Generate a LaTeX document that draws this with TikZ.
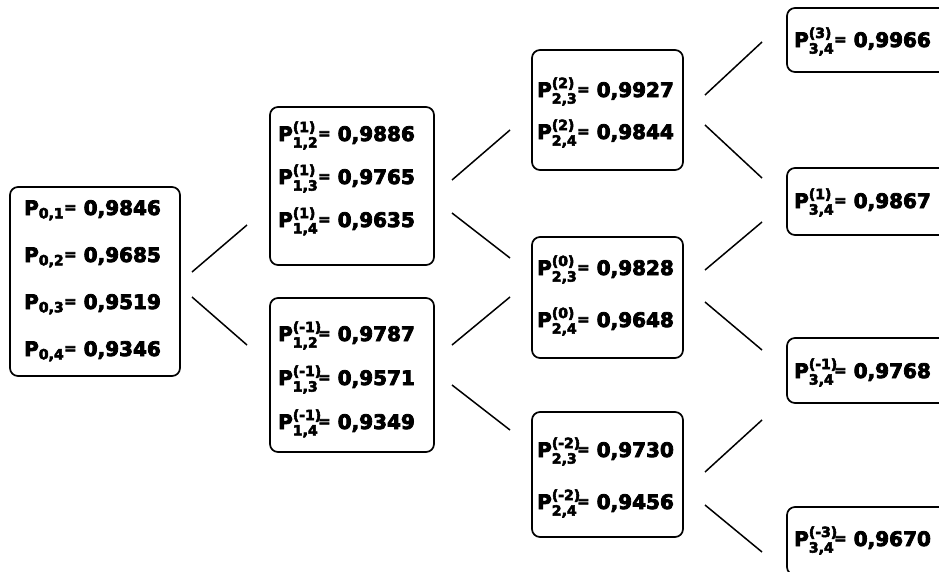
\documentclass[tikz,border=0pt]{standalone}
\usepackage{fontspec}
\usepackage{amsmath}
\setmainfont{DejaVu Sans}[BoldFeatures={FakeBold=4}]
\newcommand\eqb{\raisebox{2.5pt}{\fontsize{15}{15}\selectfont=}}
\newcommand\Pq[2]{P$^{\text{\rlap{#1}}}_{\text{#2}}$\eqb}
\newcommand\Pz[1]{P$_{\text{#1}}$\eqb}
\begin{document}
\begin{tikzpicture}[x=1pt,y=-1pt,
  box/.style={draw, line width=1.7pt, rounded corners=8pt, inner sep=0pt},
  row/.style={anchor=base west, inner sep=0pt, font=\fontsize{20}{24}\selectfont\bfseries},
  link/.style={line width=1.5pt}]
\useasboundingbox (0,0) rectangle (939,571);
\clip (0,0) rectangle (939,571);
% boxes
\node[box, minimum width=170pt, minimum height=189pt] (A)  at (95,281.5) {};
\node[box, minimum width=164pt, minimum height=158pt] (B1) at (352,186) {};
\node[box, minimum width=164pt, minimum height=154pt] (B2) at (352,375) {};
\node[box, minimum width=151pt, minimum height=120pt] (C1) at (607.5,110) {};
\node[box, minimum width=151pt, minimum height=121pt] (C2) at (607.5,297.5) {};
\node[box, minimum width=151pt, minimum height=125pt] (C3) at (607.5,474.5) {};
\node[box, minimum width=173pt, minimum height=64pt] (D1) at (873.5,40) {};
\node[box, minimum width=173pt, minimum height=67pt] (D2) at (873.5,201.5) {};
\node[box, minimum width=173pt, minimum height=65pt] (D3) at (873.5,370.5) {};
\node[box, minimum width=173pt, minimum height=68pt] (D4) at (873.5,541) {};
% texts
\node[row] (A1) at (24,215) {\Pz{0,1} 0,9846};
\node[row] (A2) at (24,262) {\Pz{0,2} 0,9685};
\node[row] (A3) at (24,309) {\Pz{0,3} 0,9519};
\node[row] (A4) at (24,356) {\Pz{0,4} 0,9346};
\node[row] (B11) at (278,141) {\Pq{(1)}{1,2} 0,9886};
\node[row] (B12) at (278,184) {\Pq{(1)}{1,3} 0,9765};
\node[row] (B13) at (278,227) {\Pq{(1)}{1,4} 0,9635};
\node[row] (B21) at (278,341) {\Pq{(-1)}{1,2} 0,9787};
\node[row] (B22) at (278,385) {\Pq{(-1)}{1,3} 0,9571};
\node[row] (B23) at (278,429) {\Pq{(-1)}{1,4} 0,9349};
\node[row] (C11) at (537,97)  {\Pq{(2)}{2,3} 0,9927};
\node[row] (C12) at (537,139) {\Pq{(2)}{2,4} 0,9844};
\node[row] (C21) at (537,275) {\Pq{(0)}{2,3} 0,9828};
\node[row] (C22) at (537,327) {\Pq{(0)}{2,4} 0,9648};
\node[row] (C31) at (537,457) {\Pq{(-2)}{2,3} 0,9730};
\node[row] (C32) at (537,509) {\Pq{(-2)}{2,4} 0,9456};
\node[row] (D11) at (794,47)  {\Pq{(3)}{3,4} 0,9966};
\node[row] (D21) at (794,208) {\Pq{(1)}{3,4} 0,9867};
\node[row] (D31) at (794,378) {\Pq{(-1)}{3,4} 0,9768};
\node[row] (D41) at (794,546) {\Pq{(-3)}{3,4} 0,9670};
% connector ends
\coordinate (ab1s) at (192,272); \coordinate (ab1e) at (247,225);
\coordinate (ab2s) at (192,297); \coordinate (ab2e) at (247,345);
\coordinate (b1c1s) at (452,180); \coordinate (b1c1e) at (510,130);
\coordinate (b1c2s) at (452,213); \coordinate (b1c2e) at (510,258);
\coordinate (b2c2s) at (452,345); \coordinate (b2c2e) at (510,297);
\coordinate (b2c3s) at (452,385); \coordinate (b2c3e) at (510,430);
\coordinate (c1d1s) at (705,95); \coordinate (c1d1e) at (762,42);
\coordinate (c1d2s) at (705,125); \coordinate (c1d2e) at (762,178);
\coordinate (c2d2s) at (705,270); \coordinate (c2d2e) at (762,222);
\coordinate (c2d3s) at (705,302); \coordinate (c2d3e) at (762,350);
\coordinate (c3d3s) at (705,472); \coordinate (c3d3e) at (762,420);
\coordinate (c3d4s) at (705,505); \coordinate (c3d4e) at (762,552);
\foreach \p in {ab1,ab2,b1c1,b1c2,b2c2,b2c3,c1d1,c1d2,c2d2,c2d3,c3d3,c3d4}
  \draw[link] (\p s) -- (\p e);
\end{tikzpicture}
\end{document}
